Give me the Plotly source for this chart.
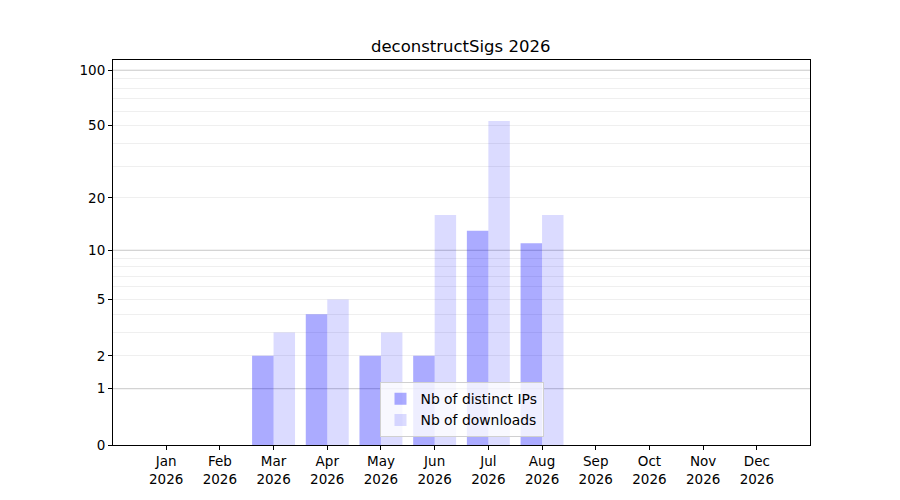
import numpy as np
import plotly.graph_objects as go

months = ["Jan", "Feb", "Mar", "Apr", "May", "Jun", "Jul", "Aug", "Sep", "Oct", "Nov", "Dec"]
year = "2026"
distinct_ips = [0, 0, 2, 4, 2, 2, 13, 11, 0, 0, 0, 0]
downloads = [0, 0, 3, 5, 3, 16, 53, 16, 0, 0, 0, 0]

tick_values = [0, 1, 2, 5, 10, 20, 50, 100]
major_grid = [1, 10, 100]
minor_grid = [2, 3, 4, 5, 6, 7, 8, 9, 20, 30, 40, 50, 60, 70, 80, 90]


def tr(v):
    # y scale used by the original: log10(1 + x)
    return np.log10(1 + np.asarray(v, dtype=float))


labels = [f"{m}<br>{year}" for m in months]
x = list(range(len(months)))

fig = go.Figure()
fig.add_trace(go.Bar(x=x, y=tr(distinct_ips), name="Nb of distinct IPs",
                     marker=dict(color="rgba(0,0,255,0.33)", line_width=0),
                     customdata=distinct_ips, hovertemplate="%{customdata}"))
fig.add_trace(go.Bar(x=x, y=tr(downloads), name="Nb of downloads",
                     marker=dict(color="rgba(0,0,255,0.14)", line_width=0),
                     customdata=downloads, hovertemplate="%{customdata}"))

for v in major_grid:
    fig.add_shape(type="line", xref="paper", x0=0, x1=1, yref="y", y0=tr(v), y1=tr(v),
                  line=dict(color="#c8c8c8", width=1), layer="below")

# page body adds an 8px margin, so margins are shifted to compensate
font = dict(family="DejaVu Sans", size=13.5, color="black")
fig.update_layout(
    width=900, height=500,
    margin=dict(l=105, r=98, t=52, b=63),
    paper_bgcolor="white", plot_bgcolor="white",
    barmode="group", bargap=0.2, bargroupgap=0,
    font=font,
    title=dict(text="deconstructSigs 2026", x=0.503, xanchor="center", y=0.924, yanchor="middle",
               font=dict(family="DejaVu Sans", size=16.5, color="black")),
    legend=dict(x=0.5, xanchor="center", y=0.02, yanchor="bottom",
                bgcolor="rgba(255,255,255,0.8)", bordercolor="#d0d0d0", borderwidth=1,
                font=dict(family="DejaVu Sans", size=13.9)),
    showlegend=True,
)
fig.update_xaxes(range=[-0.99, 11.99], tickmode="array", tickvals=x, ticktext=labels,
                 showgrid=False, zeroline=False, showline=True, linecolor="black", linewidth=1,
                 mirror=True, ticks="outside", ticklen=4, tickcolor="black")
fig.update_yaxes(range=[0, 2.059], tickmode="array", tickvals=tr(tick_values),
                 ticktext=[str(t) for t in tick_values],
                 showgrid=False, zeroline=False, showline=True, linecolor="black", linewidth=1,
                 mirror=True, ticks="outside", ticklen=4, tickcolor="black",
                 minor=dict(tickmode="array", tickvals=tr(minor_grid), showgrid=True,
                            gridcolor="#efefef", gridwidth=1, ticks=""))

fig.write_html("out.html")
